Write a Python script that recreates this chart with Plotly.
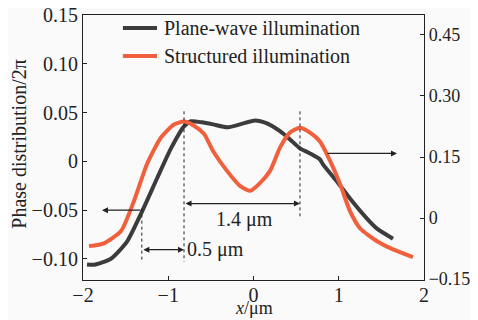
import plotly.graph_objects as go

# Plane-wave illumination (left axis)
plane_x = [-1.953, -1.871, -1.672, -1.484, -1.308, -1.132, -0.968, -0.815, -0.733, -0.604,
           -0.475, -0.311, -0.158, 0.018, 0.158, 0.311, 0.428, 0.545, 0.663, 0.780,
           0.815, 0.979, 1.132, 1.331, 1.449, 1.636]
plane_y = [-0.1057, -0.106, -0.0998, -0.0823, -0.0514, -0.0175, 0.0134, 0.036, 0.0412, 0.0401,
           0.038, 0.035, 0.038, 0.042, 0.039, 0.031, 0.0226, 0.0134, 0.0082, 0.002,
           -0.003, -0.0206, -0.038, -0.0586, -0.0689, -0.0792]

# Structured illumination (right axis)
struct_x = [-1.930, -1.754, -1.554, -1.402, -1.249, -1.085, -0.933, -0.815, -0.698, -0.581,
            -0.475, -0.311, -0.158, -0.041, 0.076, 0.194, 0.311, 0.428, 0.545, 0.663,
            0.780, 0.897, 1.015, 1.132, 1.249, 1.449, 1.636, 1.871]
struct_y = [-0.069, -0.062, -0.032, 0.042, 0.133, 0.198, 0.230, 0.237, 0.227, 0.207,
            0.165, 0.116, 0.079, 0.067, 0.086, 0.116, 0.173, 0.210, 0.222, 0.210,
            0.188, 0.141, 0.084, 0.017, -0.025, -0.057, -0.077, -0.096]

series_names = ["Plane-wave illumination", "Structured illumination"]

x_ticks = [-2, -1, 0, 1, 2]
x_ticktext = ["\u22122", "\u22121", "0", "1", "2"]
left_ticks = [-0.10, -0.05, 0, 0.05, 0.10, 0.15]
left_ticktext = ["\u22120.10", "\u22120.05", "0", "0.05", "0.10", "0.15"]
right_ticks = [-0.15, 0, 0.15, 0.30, 0.45]
right_ticktext = ["\u22120.15", "0", "0.15", "0.30", "0.45"]

FONT = "Liberation Serif, Times New Roman, serif"
FS = 20
BLACK = "#3c3c3c"
ORANGE = "#f0603c"
INK = "#222"
COLORS = [BLACK, ORANGE]

fig = go.Figure()
fig.add_trace(go.Scatter(x=plane_x, y=plane_y, mode="lines", name=series_names[0],
                         showlegend=False,
                         line=dict(color=BLACK, width=4, shape="spline", smoothing=0.6)))
fig.add_trace(go.Scatter(x=struct_x, y=struct_y, mode="lines", name=series_names[1],
                         yaxis="y2", showlegend=False,
                         line=dict(color=ORANGE, width=4, shape="spline", smoothing=0.6)))

axis_common = dict(showgrid=False, zeroline=False, showline=True, linecolor=INK,
                   linewidth=1.2, ticks="inside", ticklen=4, tickcolor=INK,
                   ticklabeloverflow="allow", automargin=False)

# page body has an 8px margin: figure is 470x312 placed at (8, 8)
fig.update_layout(
    width=470, height=312,
    margin=dict(l=75, r=54, t=7, b=40, autoexpand=False),
    paper_bgcolor="#fafafa", plot_bgcolor="#fafafa",
    font=dict(family=FONT, size=FS, color=INK),
    showlegend=False,
    xaxis=dict(range=[-2, 2], tickvals=x_ticks, ticktext=x_ticktext, mirror=True,
               ticklabelstandoff=-3, tickfont=dict(family=FONT, size=FS, color=INK),
               **axis_common),
    yaxis=dict(range=[-0.1216, 0.1502], tickvals=left_ticks, ticktext=left_ticktext,
               tickfont=dict(family=FONT, size=FS, color=INK), **axis_common),
    yaxis2=dict(range=[-0.1522, 0.499], tickvals=right_ticks, ticktext=right_ticktext,
                overlaying="y", side="right",
                tickfont=dict(family=FONT, size=18, color=INK), **axis_common),
)

# legend drawn inside the plot frame (paper coordinates)
legend_rows = [0.951, 0.845]
for name, col, ly in zip(series_names, COLORS, legend_rows):
    fig.add_shape(type="line", xref="paper", yref="paper", x0=0.117, x1=0.217, y0=ly, y1=ly,
                  line=dict(color=col, width=4))
    fig.add_annotation(text=name, xref="paper", yref="paper", x=0.233, y=ly,
                       xanchor="left", yanchor="middle", showarrow=False,
                       font=dict(family=FONT, size=FS, color=INK))

# axis titles
fig.add_annotation(text="<i>x</i>/\u03bcm", xref="paper", yref="paper", x=0.5, y=-0.150,
                   xanchor="center", yanchor="bottom", showarrow=False,
                   font=dict(family=FONT, size=18))
fig.add_annotation(text="Phase distribution/2\u03c0", xref="paper", yref="paper",
                   x=-0.19, y=0.515, textangle=-90, xanchor="center", yanchor="middle",
                   showarrow=False, font=dict(family=FONT, size=FS))

# dotted guide lines
for x0, y0, y1 in [(-1.31, -0.0484, -0.103), (-0.815, 0.0514, -0.103), (0.545, 0.0514, -0.0566)]:
    fig.add_shape(type="line", x0=x0, x1=x0, y0=y0, y1=y1, xref="x", yref="y",
                  line=dict(color=INK, width=1, dash="dot"))

arrow_style = dict(showarrow=True, arrowhead=2, arrowsize=1, arrowwidth=1.2,
                   arrowcolor=INK, text="", axref="x", ayref="y", xref="x", yref="y")
# left arrow
fig.add_annotation(x=-1.777, y=-0.05, ax=-1.31, ay=-0.05, **arrow_style)
# right arrow
fig.add_annotation(x=1.683, y=0.0082, ax=0.85, ay=0.0082, **arrow_style)
# 0.5 um double arrow
fig.add_annotation(x=-0.815, y=-0.0905, ax=-1.31, ay=-0.0905, arrowside="end+start",
                   startarrowhead=2, **arrow_style)
# 1.4 um double arrow
fig.add_annotation(x=0.545, y=-0.0432, ax=-0.815, ay=-0.0432, arrowside="end+start",
                   startarrowhead=2, **arrow_style)

fig.add_annotation(text="0.5 \u03bcm", x=-0.80, y=-0.0905, xref="x", yref="y",
                   xanchor="left", yanchor="middle", showarrow=False,
                   font=dict(family=FONT, size=FS))
fig.add_annotation(text="1.4 \u03bcm", x=-0.10, y=-0.0597, xref="x", yref="y",
                   xanchor="center", yanchor="middle", showarrow=False,
                   font=dict(family=FONT, size=FS))

fig.write_html("out.html")
